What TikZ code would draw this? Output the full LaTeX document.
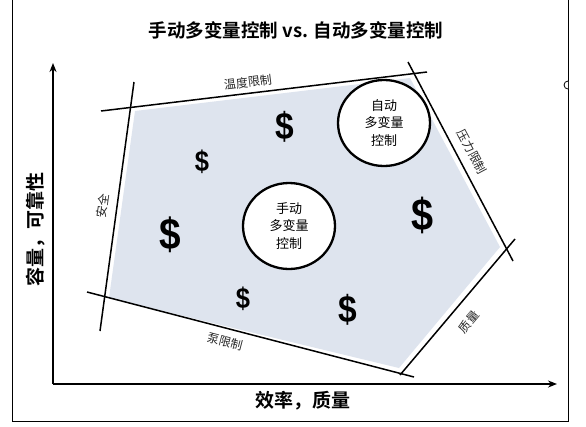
\documentclass[tikz,border=0pt]{standalone}
\usepackage{fontspec}
\usetikzlibrary{arrows.meta,shapes.geometric}
\newfontfamily\cjk{Noto Sans CJK SC}[BoldFont={Noto Sans CJK SC Bold}]
\newfontfamily\dollarfont{Liberation Sans}
\definecolor{shadefill}{RGB}{222,228,238}
\definecolor{labelgray}{RGB}{40,40,40}
\begin{document}
\begin{tikzpicture}[x=1pt,y=-1pt,
  limitline/.style={line width=1.5pt, black},
  axisline/.style={line width=1.8pt, black, -{Stealth[length=9pt,width=7pt]}},
  limitlabel/.style={font=\cjk\fontsize{12}{14}\selectfont, text=labelgray, inner sep=0pt},
  axislabel/.style={font=\cjk\bfseries\fontsize{19}{22}\selectfont, inner sep=0pt},
  controlbubble/.style={ellipse, draw, line width=2.3pt, fill=white, minimum width=92pt, minimum height=86pt, inner sep=0pt, align=center, font=\cjk\fontsize{13}{17.5}\selectfont},
  dollar/.style={font=\dollarfont\bfseries\fontsize{#1}{#1}\selectfont, inner sep=0pt, xscale=0.88}
]
\useasboundingbox (0,0) rectangle (586,426);
\fill[white] (0,0) rectangle (586,426);

% frame
\draw[line width=1pt] (12,-2) -- (12,421) -- (568,421) -- (568,-2);
\draw[line width=0.8pt, fill=white] (568,89) arc[start angle=90, end angle=270, radius=4];

% title
\node[font=\cjk\bfseries\fontsize{18.5}{20}\selectfont, inner sep=0pt] (title) at (296,30) {手动多变量控制 vs. 自动多变量控制};

% feasible region
\fill[shadefill] (135,111) -- (410,78) -- (500,247) -- (399,368) -- (109,298) -- cycle;

% limit lines
\coordinate (safeA) at (100,331);
\coordinate (safeB) at (134,82);
\coordinate (tempA) at (101,111);
\coordinate (tempB) at (427,72);
\coordinate (presA) at (408,62);
\coordinate (presB) at (513,261);
\coordinate (qualA) at (515,239);
\coordinate (qualB) at (400,375);
\coordinate (pumpA) at (87,292);
\coordinate (pumpB) at (414,377);
\draw[limitline] (safeA) -- (safeB);
\draw[limitline] (tempA) -- (tempB);
\draw[limitline] (presA) -- (presB);
\draw[limitline] (qualA) -- (qualB);
\draw[limitline] (pumpA) -- (pumpB);

% limit labels
\node[limitlabel, rotate=7] (templabel) at (248,82) {温度限制};
\node[limitlabel, rotate=-62] (preslabel) at (472,152) {压力限制};
\node[limitlabel, rotate=50] (quallabel) at (469,322) {质量};
\node[limitlabel, rotate=-14.6] (pumplabel) at (225,342) {泵限制};
\node[limitlabel, rotate=82] (safelabel) at (103,206) {安全};

% axes
\coordinate (origin) at (53,384);
\coordinate (ytip) at (53,63);
\coordinate (xtip) at (557,384);
\draw[axisline] (origin) -- (ytip);
\draw[axisline] (origin) -- (xtip);
\node[axislabel] (xlabel) at (303,401) {效率，质量};
\node[axislabel, rotate=90] (ylabel) at (36,229) {容量，可靠性};

% dollar signs
\node[dollar=38] (d1) at (285,127) {\$};
\node[dollar=29] (d2) at (202,162) {\$};
\node[dollar=44] (d3) at (170,235) {\$};
\node[dollar=45] (d4) at (423,215) {\$};
\node[dollar=29] (d5) at (243,299) {\$};
\node[dollar=38] (d6) at (348,310) {\$};

% control bubbles
\node[controlbubble] (manual) at (289,226) {手动\\多变量\\控制};
\node[controlbubble] (auto) at (384,123) {自动\\多变量\\控制};
\end{tikzpicture}
\end{document}
